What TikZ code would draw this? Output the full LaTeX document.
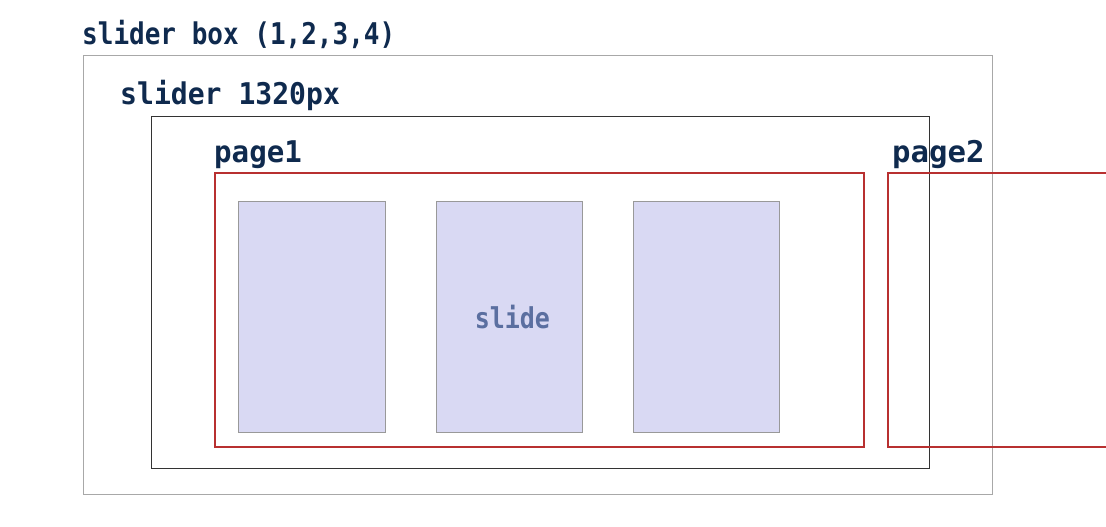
\documentclass[tikz,border=0pt]{standalone}
\usepackage{fontspec}
\setmainfont{DejaVu Sans Mono}
\definecolor{navy}{HTML}{0F2A4E}
\definecolor{slidefill}{HTML}{D9D9F3}
\definecolor{slidetext}{HTML}{5B6FA0}
\definecolor{pagered}{HTML}{B83030}
\definecolor{outergray}{HTML}{A8A8A8}
\definecolor{innerdark}{HTML}{333333}
\begin{document}
\begin{tikzpicture}[x=1pt,y=-1pt,
  lbl/.style={anchor=base west,inner sep=0pt,text=navy,font=\bfseries\fontsize{26}{26}\selectfont},
  slidebox/.style={draw=black!40,fill=slidefill,line width=0.8pt},
  pagebox/.style={draw=pagered,line width=1.1pt},
]
\useasboundingbox[fill=white] (0,0) rectangle (1106,527);
% outer slider box
\draw[outergray,line width=1pt] (83,56) rectangle (992,494);
\node[lbl] (t1) at (82,45) {\scalebox{1.0}[1.15]{slider box (1,2,3,4)}};
% slider 1320px
\draw[innerdark,line width=1pt] (151,116) rectangle (929,468);
\node[lbl] (t2) at (120,104) {\scalebox{1.08}[1.15]{slider 1320px}};
% page1
\draw[pagebox] (215,173) rectangle (864,447);
% page2
\draw[pagebox] (1110,173) -- (888,173) -- (888,447) -- (1110,447);
\node[lbl] (t3) at (214,162) {\scalebox{1.12}[1.15]{page1}};
\node[lbl] (t4) at (892,162) {\scalebox{1.18}[1.15]{page2}};
% slides
\node[slidebox,minimum width=147pt,minimum height=231pt,anchor=north west,inner sep=0pt] (s1) at (238,201) {};
\node[slidebox,minimum width=146pt,minimum height=231pt,anchor=north west,inner sep=0pt] (s2) at (436,201) {};
\node[slidebox,minimum width=146pt,minimum height=231pt,anchor=north west,inner sep=0pt] (s3) at (633,201) {};
\node[inner sep=0pt,text=slidetext,font=\bfseries\fontsize{25}{25}\selectfont] (st) at ([xshift=3pt]s2.center) {\scalebox{1}[1.15]{slide}};
\end{tikzpicture}
\end{document}
